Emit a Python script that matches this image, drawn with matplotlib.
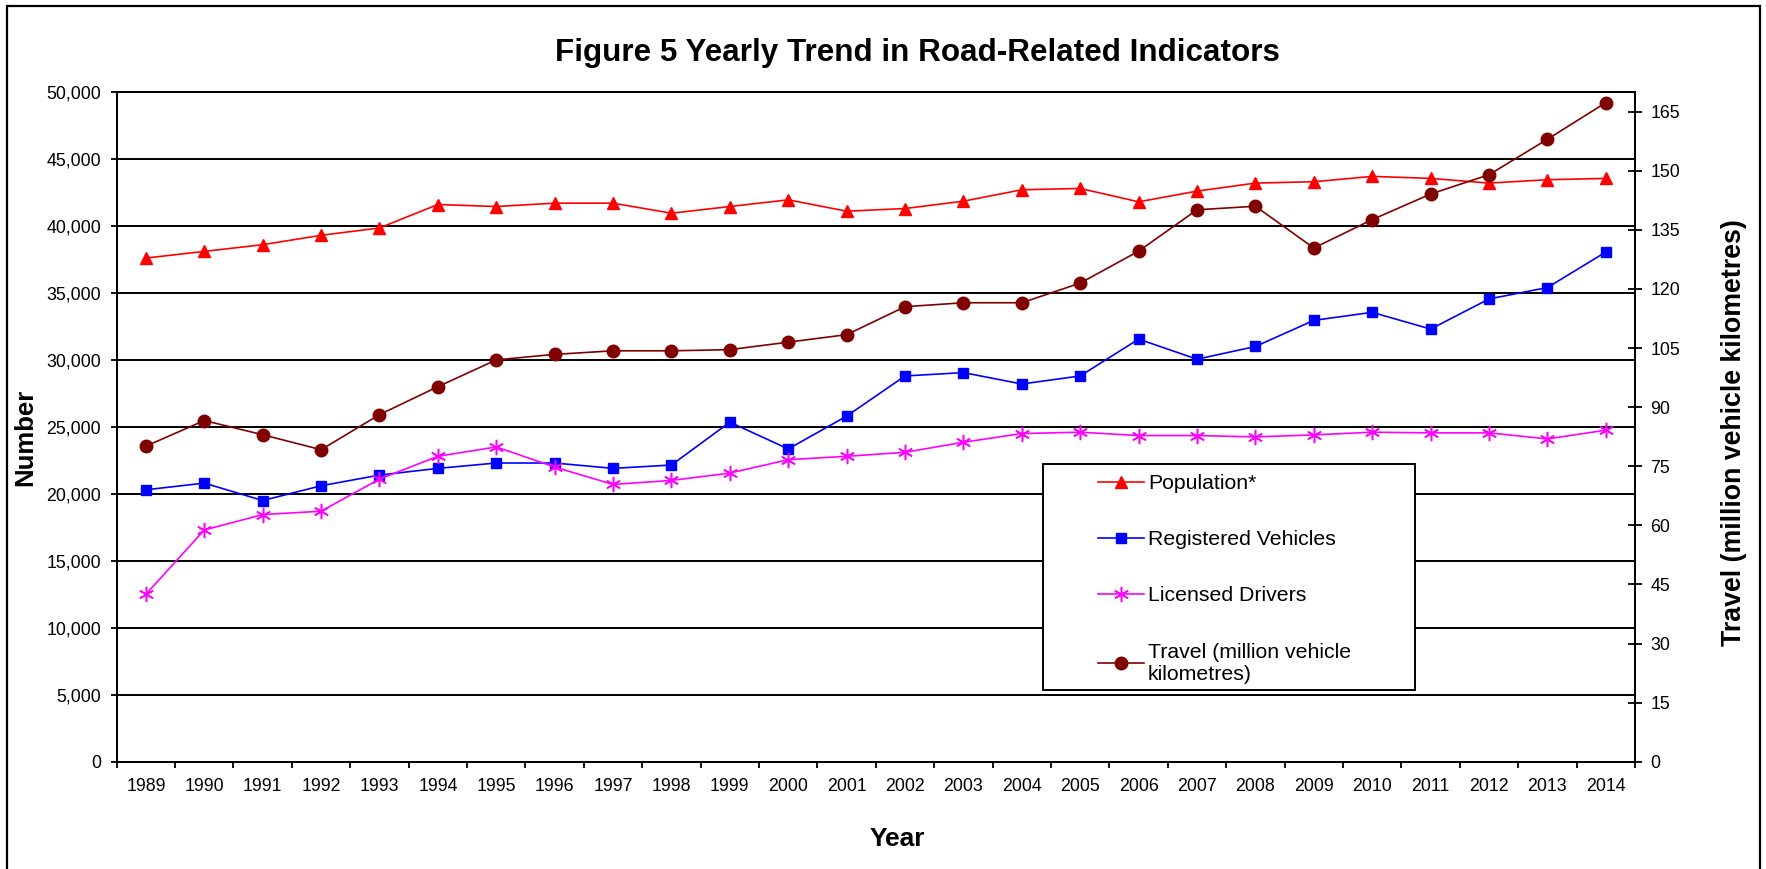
import numpy as np
import matplotlib.pyplot as plt
from matplotlib.patches import Rectangle
from matplotlib.ticker import FuncFormatter, MultipleLocator

plt.rcParams['font.family'] = ['Liberation Sans', 'DejaVu Sans']

# data
years = ['1989', '1990', '1991', '1992', '1993', '1994', '1995', '1996', '1997',
         '1998', '1999', '2000', '2001', '2002', '2003', '2004', '2005', '2006',
         '2007', '2008', '2009', '2010', '2011', '2012', '2013', '2014']
population = [37600, 38100, 38600, 39300, 39850, 41600, 41450, 41700, 41700,
              40950, 41450, 41950, 41100, 41300, 41850, 42700, 42800, 41800,
              42600, 43200, 43300, 43700, 43550, 43200, 43450, 43550]
vehicles = [20300, 20800, 19500, 20600, 21400, 21900, 22300, 22300, 21900,
            22150, 25350, 23350, 25800, 28800, 29050, 28200, 28800, 31550,
            30050, 31000, 32950, 33550, 32300, 34550, 35400, 38050]
drivers = [12500, 17300, 18450, 18700, 21100, 22800, 23500, 22000, 20700,
           21000, 21550, 22550, 22800, 23100, 23850, 24500, 24600, 24350,
           24350, 24250, 24400, 24600, 24550, 24550, 24100, 24750]
travel = [80.1, 86.6, 83.0, 79.2, 88.1, 95.2, 102.0, 103.4, 104.3, 104.3,
          104.6, 106.5, 108.4, 115.5, 116.5, 116.5, 121.5, 129.6, 140.1, 141.0,
          130.4, 137.6, 144.1, 149.0, 158.0, 167.3]

W, H = 1766, 869
fig = plt.figure(figsize=(W / 100, H / 100), dpi=100)
ax = fig.add_axes([116.7 / W, 1 - 761.7 / H, (1635 - 116.7) / W, (761.7 - 92) / H])
ax2 = ax.twinx()

x = np.arange(len(years))

l1, = ax.plot(x, population, color='#ff0000', lw=1.2, marker='^', ms=9,
              label='Population*', zorder=3)
l2, = ax.plot(x, vehicles, color='#0000ff', lw=1.2, marker='s', ms=7.5,
              label='Registered Vehicles', zorder=3)
l3, = ax.plot(x, drivers, color='#ff00ff', lw=1.2, marker=(6, 2, 0), ms=11,
              mew=1.1, label='Licensed Drivers', zorder=3)
l4, = ax2.plot(x, travel, color='#800000', lw=1.2, marker='o', ms=9,
               label='Travel (million vehicle\nkilometres)', zorder=3)

ax.set_xlim(-0.5, len(years) - 0.5)
ax.set_ylim(0, 50000)
ax2.set_ylim(0, 170)

ax.yaxis.set_major_locator(MultipleLocator(5000))
ax.yaxis.set_major_formatter(FuncFormatter(lambda v, p: f'{v:,.0f}'))
ax2.set_yticks(np.arange(0, 166, 15))

ax.set_xticks(x)
ax.set_xticklabels(years)
ax.set_xticks(np.arange(-0.5, len(years), 1), minor=True)
ax.tick_params(axis='x', which='major', length=0, pad=11.5, labelsize=12.8)
ax.tick_params(axis='x', which='minor', length=4, width=1.3, direction='out')
ax.tick_params(axis='y', length=4.3, width=1.3, direction='out', pad=7, labelsize=12.8)
ax2.tick_params(axis='y', length=9.4, width=1.3, direction='inout', pad=6.5, labelsize=12.8)

ax.yaxis.grid(True, color='black', lw=1.4)
ax.set_axisbelow(True)
for a in (ax, ax2):
    for s in a.spines.values():
        s.set_linewidth(1.4)
        s.set_color('black')

# outer frame
fig.add_artist(Rectangle((7 / W, -0.02), (1760 - 7) / W, 1.02 - 6 / H,
                         transform=fig.transFigure, fill=False,
                         edgecolor='black', lw=1.6, zorder=0))

fig.text(917 / W, 1 - 61 / H, 'Figure 5 Yearly Trend in Road-Related Indicators',
         ha='center', va='baseline', fontsize=22.6, fontweight='bold')
fig.text(897 / W, 1 - 846 / H, 'Year', ha='center', va='baseline',
         fontsize=19, fontweight='bold')
fig.text(25 / W, 1 - 437 / H, 'Number', ha='center', va='center',
         rotation=90, fontsize=18.5, fontweight='bold')
fig.text(1734 / W, 1 - 433 / H, 'Travel (million vehicle kilometres)',
         ha='center', va='center', rotation=90, fontsize=19.3, fontweight='bold')

# legend box
fig.add_artist(Rectangle((1043 / W, 1 - 690 / H), (1415 - 1043) / W, (690 - 464) / H,
                         transform=fig.transFigure, facecolor='white',
                         edgecolor='black', lw=1.4, zorder=1))
fig.legend([l1, l2, l3, l4], [l.get_label() for l in (l1, l2, l3, l4)],
           loc='upper left', bbox_to_anchor=(1098 / W, 1 - 474 / H),
           bbox_transform=fig.transFigure, frameon=False, borderpad=0,
           borderaxespad=0, handlelength=2.15, handletextpad=0.2,
           labelspacing=1.75, fontsize=15.3)

fig.savefig('out.png', dpi=100)
